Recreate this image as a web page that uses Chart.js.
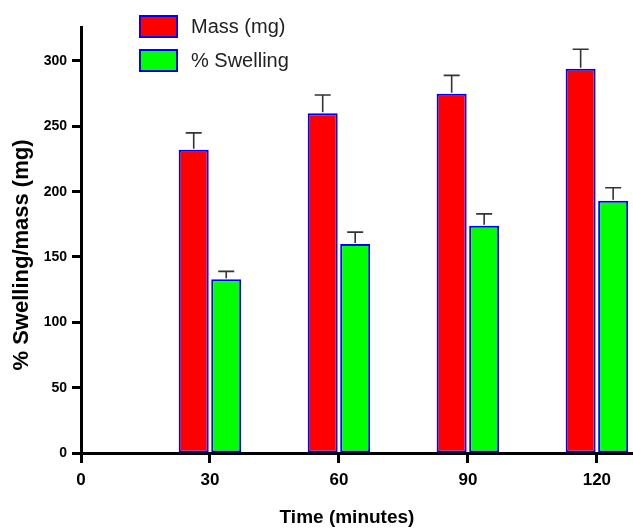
<!DOCTYPE html>
<html>
<head>
<meta charset="utf-8">
<script src="https://cdn.jsdelivr.net/npm/chart.js@4/dist/chart.umd.min.js"></script>
<style>
  html, body { margin: 0; padding: 0; background: #fff; }
  canvas { display: block; }
</style>
</head>
<body>
<canvas id="c" width="633" height="531"></canvas>
<script>
// ---- data ----
const times = [30, 60, 90, 120];
const xTickValues = [0, 30, 60, 90, 120];
const yTickValues = [0, 50, 100, 150, 200, 250, 300];
const massLabel = 'Mass (mg)';
const swellLabel = '% Swelling';
const massValues = [232, 260, 275, 294];
const massErrors = [13, 14, 14, 15];
const swellValues = [133, 160, 174, 193];
const swellErrors = [6, 9, 9, 10];
const xTitle = 'Time (minutes)';
const yTitle = '% Swelling/mass (mg)';

const FONT = "'Liberation Sans', Arial, sans-serif";

const errorBars = {
  id: 'errorBars',
  afterDatasetsDraw(chart) {
    const ctx = chart.ctx;
    const yScale = chart.scales.y;
    chart.data.datasets.forEach((ds, di) => {
      const meta = chart.getDatasetMeta(di);
      meta.data.forEach((el, i) => {
        const v = ds.data[i].y;
        const e = ds.errors[i];
        const yTop = yScale.getPixelForValue(v + e);
        const yBar = yScale.getPixelForValue(v);
        ctx.save();
        ctx.strokeStyle = '#333';
        ctx.lineWidth = 1.6;
        ctx.beginPath();
        ctx.moveTo(el.x, yBar - 1);
        ctx.lineTo(el.x, yTop);
        ctx.moveTo(el.x - 8, yTop);
        ctx.lineTo(el.x + 8, yTop);
        ctx.stroke();
        ctx.restore();
      });
    });
  }
};

const customLegendAndTitles = {
  id: 'customLegendAndTitles',
  afterDraw(chart) {
    const ctx = chart.ctx;
    ctx.save();
    // legend
    const items = chart.data.datasets;
    items.forEach((ds, i) => {
      const top = 15 + i * 34;
      ctx.fillStyle = ds.backgroundColor;
      ctx.fillRect(139, top, 39, 23);
      ctx.strokeStyle = ds.borderColor;
      ctx.lineWidth = 2;
      ctx.strokeRect(140, top + 1, 37, 21);
      ctx.fillStyle = '#222';
      ctx.font = '20px ' + FONT;
      ctx.textAlign = 'left';
      ctx.textBaseline = 'middle';
      ctx.fillText(ds.label, 191, top + 12.5);
    });
    // axis titles
    ctx.fillStyle = '#000';
    ctx.font = 'bold 19px ' + FONT;
    ctx.textAlign = 'center';
    ctx.textBaseline = 'middle';
    ctx.fillText(xTitle, 347, 518);
    ctx.translate(22, 255);
    ctx.rotate(-Math.PI / 2);
    ctx.font = 'bold 22px ' + FONT;
    ctx.fillText(yTitle, 0, 0);
    ctx.restore();
  }
};

new Chart(document.getElementById('c'), {
  type: 'bar',
  data: {
    datasets: [
      {
        label: massLabel,
        data: times.map((t, i) => ({ x: t, y: massValues[i] })),
        errors: massErrors,
        backgroundColor: '#ff0000',
        borderColor: '#0000ff',
        borderWidth: 2,
        borderSkipped: false
      },
      {
        label: swellLabel,
        data: times.map((t, i) => ({ x: t, y: swellValues[i] })),
        errors: swellErrors,
        backgroundColor: '#00ff00',
        borderColor: '#0000ff',
        borderWidth: 2,
        borderSkipped: false
      }
    ]
  },
  options: {
    responsive: false,
    animation: false,
    barPercentage: 0.923,
    categoryPercentage: 0.504,
    layout: { padding: { top: 27, right: 0, left: 0, bottom: 0 } },
    plugins: { legend: { display: false }, tooltip: { enabled: false } },
    scales: {
      x: {
        type: 'linear',
        min: 0,
        max: 128.4,
        offset: false,
        afterFit(s) { s.height = 78; },
        afterBuildTicks(s) { s.ticks = xTickValues.map(v => ({ value: v })); },
        ticks: { color: '#000', font: { family: FONT, size: 17, weight: 'bold' }, padding: 7, maxRotation: 0, autoSkip: false },
        grid: { display: true, drawOnChartArea: false, drawTicks: true, tickLength: 10, tickWidth: 3, tickColor: '#000', offset: false },
        border: { display: true, width: 3, color: '#000' }
      },
      y: {
        min: 0,
        max: 326,
        afterFit(s) { s.width = 81; },
        afterBuildTicks(s) { s.ticks = yTickValues.map(v => ({ value: v })); },
        ticks: { color: '#000', font: { family: FONT, size: 14, weight: 'bold' }, padding: 5 },
        grid: { display: true, drawOnChartArea: false, drawTicks: true, tickLength: 9, tickWidth: 3, tickColor: '#000' },
        border: { display: true, width: 3, color: '#000' }
      }
    }
  },
  plugins: [errorBars, customLegendAndTitles]
});
</script>
</body>
</html>
